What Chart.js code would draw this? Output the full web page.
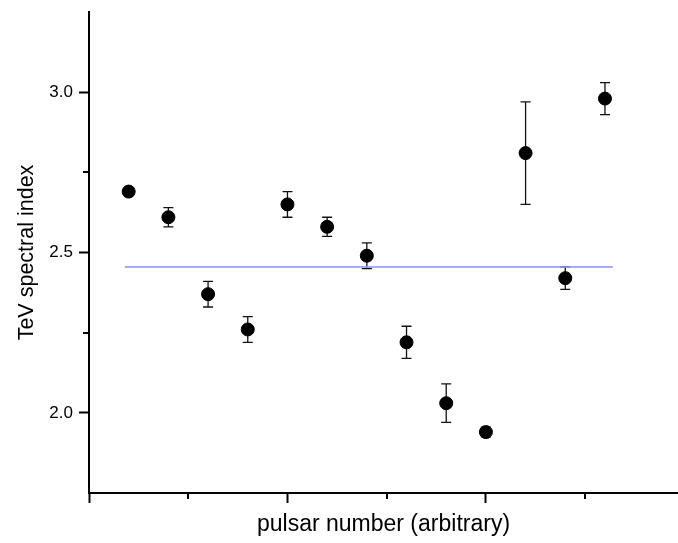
<!DOCTYPE html>
<html>
<head>
<meta charset="utf-8">
<script src="https://cdn.jsdelivr.net/npm/chart.js@4"></script>
<style>
html,body{margin:0;padding:0;background:#fff;overflow:hidden;}
#wrap{width:678px;height:543px;position:relative;}
#c{display:block;}
</style>
</head>
<body>
<div id="wrap"><canvas id="c"></canvas></div>
<script>
// Data
const pulsarNumber = [1,2,3,4,5,6,7,8,9,10,11,12,13];
const spectralIndex = [2.69,2.61,2.37,2.26,2.65,2.58,2.49,2.22,2.03,1.94,2.81,2.42,2.98];
const indexError = [0.01,0.03,0.04,0.04,0.04,0.03,0.04,0.05,0.06,0.015,0.16,0.035,0.05];
const meanLineX = [0.9, 13.2];
const meanLineY = [2.455, 2.455];
const yMajorTicks = [2.0, 2.5, 3.0];
const yMinorTicks = [2.25, 2.75];
const xMajorTicks = [0, 5, 10];
const xMinorTicks = [2.5, 7.5, 12.5];

const FONT = "'Liberation Sans', Arial, Helvetica, sans-serif";

const errorBarPlugin = {
  id: 'errorBars',
  beforeDatasetsDraw(chart) {
    const ctx = chart.ctx, xs = chart.scales.x, ys = chart.scales.y;
    ctx.save();
    ctx.strokeStyle = '#111';
    ctx.lineWidth = 1.3;
    pulsarNumber.forEach((xv, i) => {
      const px = xs.getPixelForValue(xv);
      const pTop = ys.getPixelForValue(spectralIndex[i] + indexError[i]);
      const pBot = ys.getPixelForValue(spectralIndex[i] - indexError[i]);
      ctx.beginPath();
      ctx.moveTo(px, pTop); ctx.lineTo(px, pBot);
      ctx.moveTo(px - 5, pTop); ctx.lineTo(px + 5, pTop);
      ctx.moveTo(px - 5, pBot); ctx.lineTo(px + 5, pBot);
      ctx.stroke();
    });
    ctx.restore();
  },
  afterDraw(chart) {
    const ctx = chart.ctx, xs = chart.scales.x, ys = chart.scales.y;
    const area = chart.chartArea;
    ctx.save();
    ctx.strokeStyle = '#000';
    ctx.lineWidth = 2;
    ctx.beginPath();
    yMinorTicks.forEach(v => {
      const py = Math.round(ys.getPixelForValue(v));
      ctx.moveTo(area.left, py); ctx.lineTo(area.left - 6, py);
    });
    xMinorTicks.forEach(v => {
      const px = Math.round(xs.getPixelForValue(v));
      ctx.moveTo(px, area.bottom); ctx.lineTo(px, area.bottom + 6);
    });
    ctx.stroke();
    ctx.restore();
  }
};

new Chart(document.getElementById('c'), {
  type: 'scatter',
  data: {
    datasets: [
      {
        type: 'line',
        data: meanLineX.map((x, i) => ({x, y: meanLineY[i]})),
        borderColor: 'rgba(150,150,240,0.8)',
        borderWidth: 2,
        pointRadius: 0,
        fill: false,
        order: 2
      },
      {
        data: pulsarNumber.map((x, i) => ({x, y: spectralIndex[i]})),
        backgroundColor: '#000',
        borderColor: '#000',
        pointRadius: 6.5,
        pointHoverRadius: 6.5,
        order: 1
      }
    ]
  },
  options: {
    responsive: true,
    maintainAspectRatio: false,
    animation: false,
    events: [],
    layout: { autoPadding: false, padding: { top: 12, right: 0, left: 0, bottom: 0 } },
    plugins: { legend: { display: false }, tooltip: { enabled: false } },
    scales: {
      x: {
        type: 'linear',
        min: 0,
        max: 14.84,
        border: { color: '#000', width: 2 },
        grid: { drawOnChartArea: false, drawTicks: true, tickLength: 10, tickWidth: 2, tickColor: '#000' },
        ticks: { display: false },
        afterBuildTicks: s => { s.ticks = xMajorTicks.map(v => ({ value: v })); },
        afterFit: s => { s.height = 50; s.paddingLeft = 0; s.paddingRight = 0; },
        title: {
          display: true,
          text: 'pulsar number (arbitrary)',
          color: '#000',
          font: { family: FONT, size: 23 },
          padding: { top: 0, bottom: 5 }
        }
      },
      y: {
        type: 'linear',
        min: 1.75,
        max: 3.25,
        border: { color: '#000', width: 2 },
        grid: { drawOnChartArea: false, drawTicks: true, tickLength: 10, tickWidth: 2, tickColor: '#000' },
        ticks: {
          color: '#000',
          font: { family: FONT, size: 17 },
          padding: 6,
          callback: v => Number(v).toFixed(1)
        },
        afterBuildTicks: s => { s.ticks = yMajorTicks.map(v => ({ value: v })); },
        afterFit: s => { s.width = 89; s.paddingTop = 0; s.paddingBottom = 0; },
        title: {
          display: true,
          text: 'TeV spectral index',
          color: '#000',
          font: { family: FONT, size: 21.5 },
          padding: { top: 14, bottom: 0 }
        }
      }
    }
  },
  plugins: [errorBarPlugin]
});
</script>
</body>
</html>
